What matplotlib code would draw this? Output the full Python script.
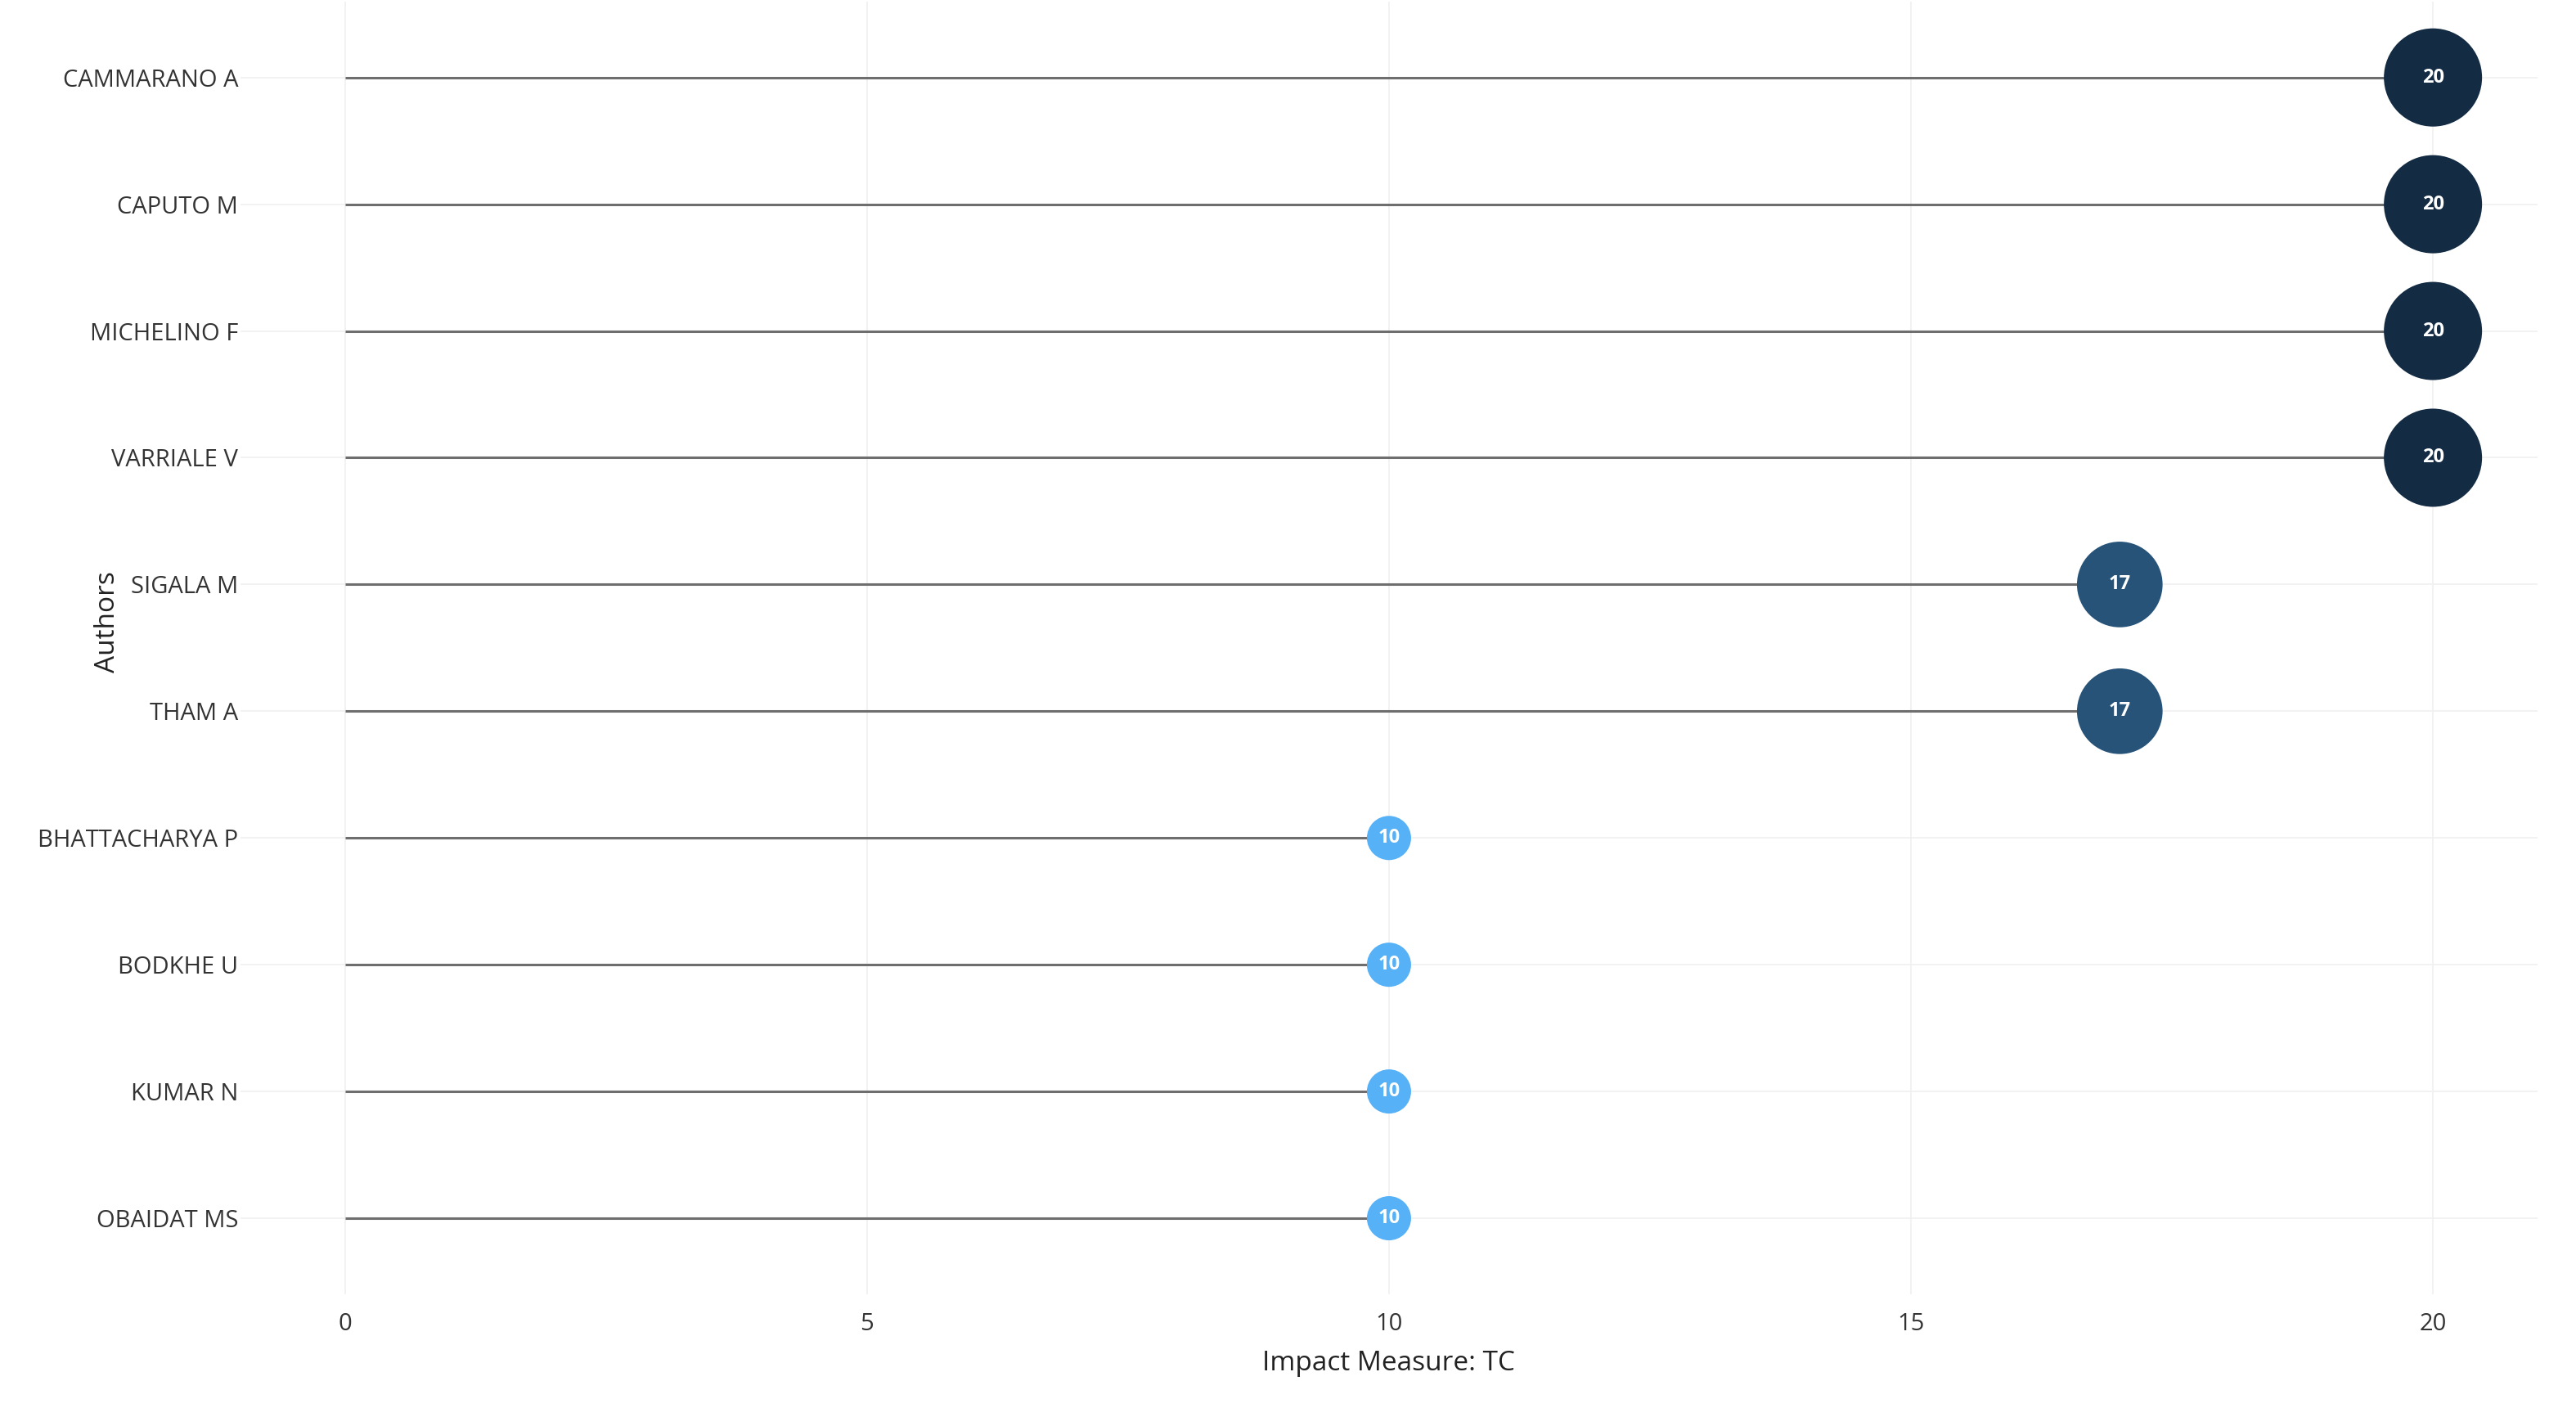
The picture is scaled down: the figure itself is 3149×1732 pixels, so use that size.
import matplotlib.pyplot as plt
from matplotlib.colors import LinearSegmentedColormap, Normalize

authors = ["CAMMARANO A", "CAPUTO M", "MICHELINO F", "VARRIALE V", "SIGALA M",
           "THAM A", "BHATTACHARYA P", "BODKHE U", "KUMAR N", "OBAIDAT MS"]
tc = [20, 20, 20, 20, 17, 17, 10, 10, 10, 10]

plt.rcParams['font.family'] = ['Open Sans', 'DejaVu Sans']

fig = plt.figure(figsize=(3149 / 200, 1732 / 200), dpi=200)
ax = fig.add_axes([0.0934, 0.0866, 0.8916, 0.9124])

cmap = LinearSegmentedColormap.from_list("tc", ["#56B1F7", "#132B43"])
norm = Normalize(vmin=min(tc), vmax=max(tc))
ypos = list(range(len(authors)))

for y, v in zip(ypos, tc):
    ax.plot([0, v], [y, y], color="#6e6e6e", lw=1.1, zorder=2, solid_capstyle="butt")

# point size grows with TC
sizes = [378 + (v - 10) * (1866 - 378) / 10 for v in tc]
ax.scatter(tc, ypos, s=sizes, c=[cmap(norm(v)) for v in tc], zorder=3, linewidths=0)

for y, v in zip(ypos, tc):
    ax.text(v, y, str(v), color="white", fontsize=8.5, fontweight="bold",
            ha="center", va="center", zorder=4)

ax.set_xlim(-1, 21)
ax.set_ylim(len(authors) - 0.4, -0.6)
ax.set_xticks([0, 5, 10, 15, 20])
ax.set_yticks(ypos)
ax.set_yticklabels(authors)
ax.tick_params(length=0, labelsize=10.5, labelcolor="#333333")
ax.tick_params(axis="x", pad=8)
ax.tick_params(axis="y", pad=1)
ax.grid(True, color="#f0f0f0", lw=0.6, zorder=0)
ax.set_axisbelow(True)
for s in ax.spines.values():
    s.set_visible(False)

ax.set_xlabel("Impact Measure: TC", fontsize=12, color="#222222", labelpad=6)
ax.set_ylabel("Authors", fontsize=12, color="#222222")
ax.yaxis.set_label_coords(-0.052, 0.52)

fig.savefig("out.png", dpi=200, facecolor="white")
